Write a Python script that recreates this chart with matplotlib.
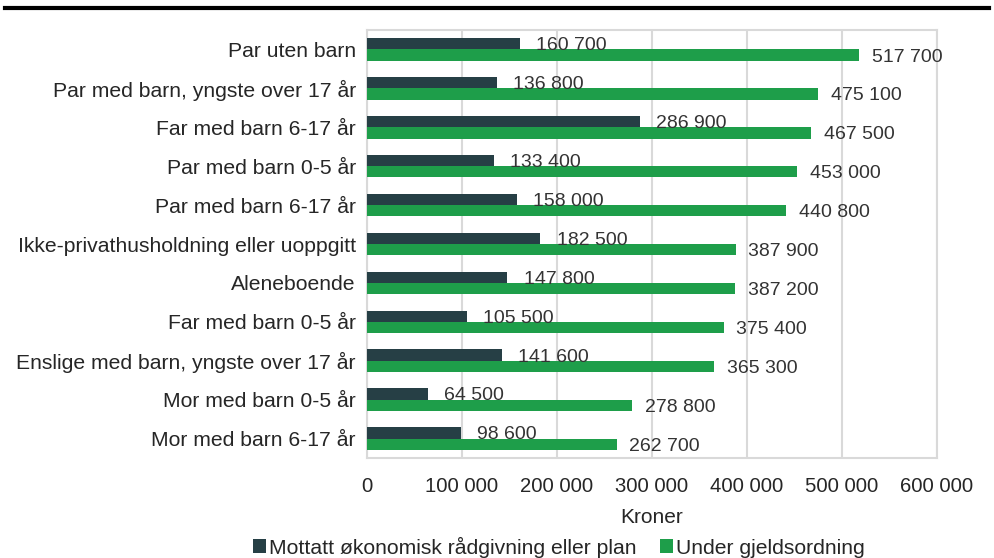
import numpy as np
import matplotlib.pyplot as plt

plt.rcParams['font.family'] = ['Liberation Sans', 'DejaVu Sans']

categories = [
    "Par uten barn",
    "Par med barn, yngste over 17 år",
    "Far med barn 6-17 år",
    "Par med barn 0-5 år",
    "Par med barn 6-17 år",
    "Ikke-privathusholdning eller uoppgitt",
    "Aleneboende",
    "Far med barn 0-5 år",
    "Enslige med barn, yngste over 17 år",
    "Mor med barn 0-5 år",
    "Mor med barn 6-17 år",
]
radgivning = [160700, 136800, 286900, 133400, 158000, 182500, 147800, 105500, 141600, 64500, 98600]
gjeldsordning = [517700, 475100, 467500, 453000, 440800, 387900, 387200, 375400, 365300, 278800, 262700]
xticks = [0, 100000, 200000, 300000, 400000, 500000, 600000]

dark = "#263f45"
green = "#1e9e4a"
txt = "#262626"


def fmt(v):
    return f"{v:,}".replace(",", " ")


fig = plt.figure(figsize=(9.94, 5.58), dpi=100)
ax = fig.add_axes([367 / 994, 1 - 458 / 558, 570 / 994, 428 / 558])

y = np.arange(len(categories))
h = 0.29
ax.barh(y - h / 2, radgivning, height=h, color=dark, zorder=3,
        label="Mottatt økonomisk rådgivning eller plan")
ax.barh(y + h / 2, gjeldsordning, height=h, color=green, zorder=3,
        label="Under gjeldsordning")

for yi, v in zip(y, radgivning):
    ax.text(v + 17000, yi - h / 2 + 0.05, fmt(v), va="center", ha="left",
            fontsize=14, color="#333333", zorder=4)
for yi, v in zip(y, gjeldsordning):
    ax.text(v + 13500, yi + h / 2 + 0.05, fmt(v), va="center", ha="left",
            fontsize=14, color="#333333", zorder=4)

ax.set_xlim(0, 600000)
ax.set_ylim(len(categories) - 0.5, -0.5)
ax.set_yticks(y)
ax.set_yticklabels(categories, fontsize=15.2, color=txt)
ax.set_xticks(xticks)
ax.set_xticklabels([fmt(t) for t in xticks], fontsize=14.6, color=txt)
ax.tick_params(axis="both", length=0)
ax.tick_params(axis="x", pad=14)
ax.tick_params(axis="y", pad=8)
ax.grid(axis="x", color="#d9d9d9", linewidth=1.5, zorder=0)
for s in ax.spines.values():
    s.set_color("#d9d9d9")
    s.set_linewidth(1.5)
ax.set_xlabel("Kroner", fontsize=15, color=txt, labelpad=8)

leg = fig.legend(loc="center", bbox_to_anchor=(559 / 994, 1 - 547 / 558), ncol=2,
                 frameon=False, fontsize=15.2, handlelength=0.6, handleheight=0.6,
                 handletextpad=0.15, columnspacing=1.1, labelcolor=txt)

fig.add_artist(plt.Line2D([0.005, 0.995], [1 - 8 / 558, 1 - 8 / 558],
                          color="black", linewidth=3, transform=fig.transFigure))

fig.savefig("out.png", dpi=100)
